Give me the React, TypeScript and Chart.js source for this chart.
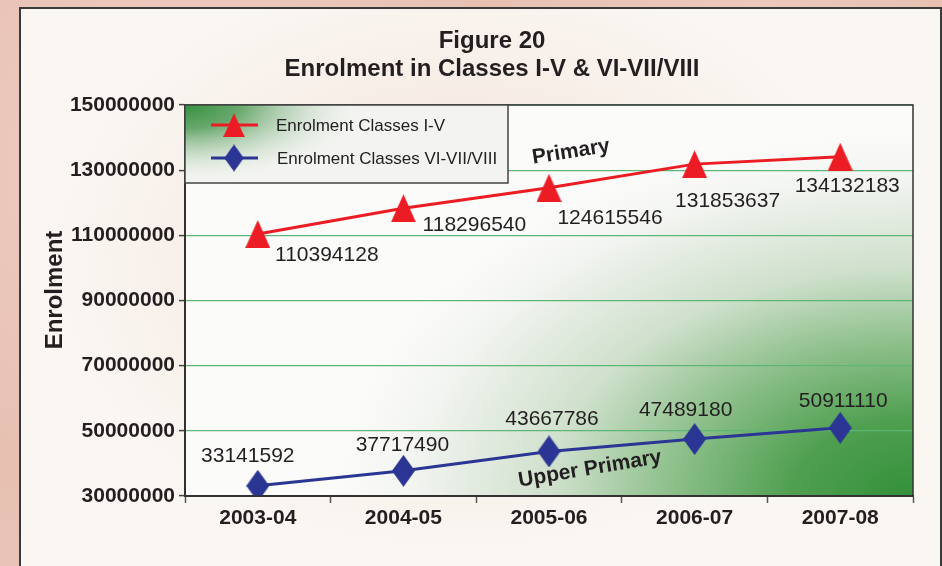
import React, { useEffect, useRef } from "react";
import { Chart, registerables } from "chart.js";

Chart.register(...registerables);

// ---------- data ----------
const categories = ["2003-04", "2004-05", "2005-06", "2006-07", "2007-08"];
const primaryValues = [110394128, 118296540, 124615546, 131853637, 134132183];
const upperPrimaryValues = [33141592, 37717490, 43667786, 47489180, 50911110];
const seriesLabels = ["Enrolment Classes I-V", "Enrolment Classes VI-VII/VIII"];
const titleLines = ["Figure 20", "Enrolment in Classes I-V & VI-VII/VIII"];
const yAxisTitle = "Enrolment";
const yMin = 30000000;
const yMax = 150000000;
const yStep = 20000000;
const annotationTexts = ["Primary", "Upper Primary"];

// ---------- layout (label placement offsets, px) ----------
const primaryLabelOffsets = [
  [69, 21],
  [71, 17],
  [61, 30],
  [33, 37],
  [7, 30],
];
const upperLabelOffsets = [
  [-10, -30],
  [-1, -26],
  [3, -32],
  [-9, -29],
  [3, -27],
];

const FONT = '"Liberation Sans", Arial, Helvetica, sans-serif';
const RED = "#ec1c24";
const BLUE = "#2b3694";
const TEXT = "#231f20";

function makeTriangle(w: number, h: number, color: string) {
  const c = document.createElement("canvas");
  c.width = w;
  c.height = h;
  const ctx = c.getContext("2d")!;
  ctx.fillStyle = color;
  ctx.beginPath();
  ctx.moveTo(w / 2, 0);
  ctx.lineTo(w, h);
  ctx.lineTo(0, h);
  ctx.closePath();
  ctx.fill();
  return c;
}

function makeDiamond(w: number, h: number, color: string) {
  const c = document.createElement("canvas");
  c.width = w;
  c.height = h;
  const ctx = c.getContext("2d")!;
  ctx.fillStyle = color;
  ctx.beginPath();
  ctx.moveTo(w / 2, 0);
  ctx.lineTo(w, h / 2);
  ctx.lineTo(w / 2, h);
  ctx.lineTo(0, h / 2);
  ctx.closePath();
  ctx.fill();
  return c;
}

export default function App() {
  const ref = useRef<HTMLCanvasElement | null>(null);

  useEffect(() => {
    const canvas = ref.current!;
    const tri = makeTriangle(25, 28, RED);
    const dia = makeDiamond(23, 32, BLUE);

    const decor = {
      id: "decor",
      beforeDraw(chart: any) {
        const { ctx, chartArea: a } = chart;
        ctx.save();
        ctx.fillStyle = "#fbfbfa";
        ctx.fillRect(a.left, a.top, a.right - a.left, a.bottom - a.top);
        // green glow toward bottom-right
        ctx.save();
        ctx.beginPath();
        ctx.rect(a.left, a.top, a.right - a.left, a.bottom - a.top);
        ctx.clip();
        ctx.translate(a.right, a.bottom);
        ctx.scale(600 / 380, 1);
        const g = ctx.createRadialGradient(0, 0, 0, 0, 0, 380);
        g.addColorStop(0, "#33903a");
        g.addColorStop(0.2, "#4f9f50");
        g.addColorStop(0.4, "#8cbf8a");
        g.addColorStop(0.6, "#cfe0cc");
        g.addColorStop(0.8, "#edf1eb");
        g.addColorStop(1, "rgba(251,251,250,0)");
        ctx.fillStyle = g;
        ctx.fillRect(-1000, -1000, 2000, 2000);
        ctx.restore();
        ctx.restore();
      },
      afterDraw(chart: any) {
        const { ctx, chartArea: a } = chart;
        ctx.save();
        // plot border
        ctx.strokeStyle = "#333333";
        ctx.lineWidth = 1.5;
        ctx.strokeRect(a.left, a.top, a.right - a.left, a.bottom - a.top);

        // titles
        ctx.fillStyle = TEXT;
        ctx.textAlign = "center";
        ctx.textBaseline = "middle";
        ctx.font = `bold 24px ${FONT}`;
        ctx.fillText(titleLines[0], 492, 41);
        ctx.fillText(titleLines[1], 492, 69);

        // y axis title
        ctx.save();
        ctx.translate(55, 290);
        ctx.rotate(-Math.PI / 2);
        ctx.font = `bold 24px ${FONT}`;
        ctx.fillText(yAxisTitle, 0, 0);
        ctx.restore();

        // legend box
        const lx = a.left, ly = a.top, lw = 323, lh = 78;
        ctx.save();
        ctx.beginPath();
        ctx.rect(lx, ly, lw, lh);
        ctx.clip();
        ctx.fillStyle = "#f3f4f1";
        ctx.fillRect(lx, ly, lw, lh);
        ctx.translate(lx, ly);
        ctx.scale(2.3, 1);
        const lg = ctx.createRadialGradient(0, 0, 0, 0, 0, 80);
        lg.addColorStop(0, "rgba(52,145,62,1)");
        lg.addColorStop(0.3, "rgba(90,160,95,0.9)");
        lg.addColorStop(0.65, "rgba(180,208,180,0.55)");
        lg.addColorStop(1, "rgba(243,244,241,0)");
        ctx.fillStyle = lg;
        ctx.fillRect(0, 0, 400, 200);
        ctx.restore();
        ctx.strokeStyle = "#444444";
        ctx.lineWidth = 1.5;
        ctx.strokeRect(lx, ly, lw, lh);

        const items = [
          { y: 125, color: RED, img: tri, text: seriesLabels[0], tx: 276 },
          { y: 158, color: BLUE, img: dia, text: seriesLabels[1], tx: 277 },
        ];
        items.forEach((it) => {
          ctx.strokeStyle = it.color;
          ctx.lineWidth = 3;
          ctx.beginPath();
          ctx.moveTo(211, it.y);
          ctx.lineTo(258, it.y);
          ctx.stroke();
          const iw = it.img.width * 0.85, ih = it.img.height * 0.85;
          ctx.drawImage(it.img, 234 - iw / 2, it.y - ih / 2, iw, ih);
          ctx.fillStyle = "#222222";
          ctx.font = `17px ${FONT}`;
          ctx.textAlign = "left";
          ctx.textBaseline = "middle";
          ctx.fillText(it.text, it.tx, it.y + 1);
        });

        // data labels
        ctx.font = `21px ${FONT}`;
        ctx.fillStyle = TEXT;
        ctx.textAlign = "center";
        ctx.textBaseline = "middle";
        const m0 = chart.getDatasetMeta(0).data;
        const m1 = chart.getDatasetMeta(1).data;
        primaryValues.forEach((v, i) => {
          const p = m0[i];
          ctx.fillText(String(v), p.x + primaryLabelOffsets[i][0], p.y + primaryLabelOffsets[i][1]);
        });
        upperPrimaryValues.forEach((v, i) => {
          const p = m1[i];
          ctx.fillText(String(v), p.x + upperLabelOffsets[i][0], p.y + upperLabelOffsets[i][1]);
        });

        // annotations
        ctx.font = `bold 21px ${FONT}`;
        ctx.fillStyle = "#231f20";
        ctx.save();
        ctx.translate(571, 152);
        ctx.rotate((-9 * Math.PI) / 180);
        ctx.fillText(annotationTexts[0], 0, 0);
        ctx.restore();
        ctx.save();
        ctx.translate(590, 469);
        ctx.rotate((-9.5 * Math.PI) / 180);
        ctx.fillText(annotationTexts[1], 0, 0);
        ctx.restore();

        ctx.restore();
      },
    };

    const chart = new Chart(canvas, {
      type: "line",
      data: {
        labels: categories,
        datasets: [
          {
            label: seriesLabels[0],
            data: primaryValues,
            borderColor: RED,
            backgroundColor: RED,
            borderWidth: 3,
            pointStyle: tri as any,
            pointRadius: 13,
            tension: 0,
          },
          {
            label: seriesLabels[1],
            data: upperPrimaryValues,
            borderColor: BLUE,
            backgroundColor: BLUE,
            borderWidth: 3,
            pointStyle: dia as any,
            pointRadius: 13,
            tension: 0,
          },
        ],
      },
      options: {
        animation: false,
        responsive: false,
        devicePixelRatio: 1,
        layout: { padding: { left: 0, top: 105, right: 29, bottom: 0 } },
        plugins: {
          legend: { display: false },
          title: { display: false },
          tooltip: { enabled: false },
        },
        scales: {
          x: {
            type: "category",
            offset: true,
            grid: {
              offset: true,
              drawOnChartArea: false,
              drawTicks: true,
              tickLength: 7,
              tickColor: "#555555",
              tickWidth: 1.5,
            },
            border: { display: true, color: "#333333", width: 2 },
            ticks: {
              color: TEXT,
              font: { family: FONT, size: 21, weight: "bold" },
              padding: 3,
              maxRotation: 0,
              autoSkip: false,
            },
            afterFit(scale: any) {
              scale.height = 70;
            },
          },
          y: {
            min: yMin,
            max: yMax,
            grid: {
              color: "#5db676",
              lineWidth: 1.2,
              drawTicks: true,
              tickLength: 6,
              tickColor: "#444444",
              tickWidth: 1.5,
            },
            border: { display: true, color: "#333333", width: 2 },
            ticks: {
              stepSize: yStep,
              color: TEXT,
              font: { family: FONT, size: 21, weight: "bold" },
              padding: 4,
              callback: (v: any) => String(v),
            },
            afterFit(scale: any) {
              scale.width = 185;
            },
          },
        },
      },
      plugins: [decor],
    });

    return () => chart.destroy();
  }, []);

  return (
    <div
      style={{
        position: "fixed",
        left: 0,
        top: 0,
        width: 942,
        height: 566,
        overflow: "hidden",
        background:
          "radial-gradient(circle at 20% 30%, #efd0c4 0%, #e7c0b2 40%, #ecc9bc 70%, #e5bcad 100%)",
      }}
    >
      <div
        style={{
          position: "absolute",
          left: 19,
          top: 7,
          width: 923,
          height: 620,
          boxSizing: "border-box",
          border: "2px solid #3a3a3a",
          background:
            "radial-gradient(ellipse 420px 300px at 440px 250px, #f5e6dc 0%, #f7ede6 55%, #faf7f3 100%)",
        }}
      />
      <canvas
        ref={ref}
        width={942}
        height={566}
        style={{ position: "absolute", left: 0, top: 0, width: 942, height: 566 }}
      />
    </div>
  );
}
